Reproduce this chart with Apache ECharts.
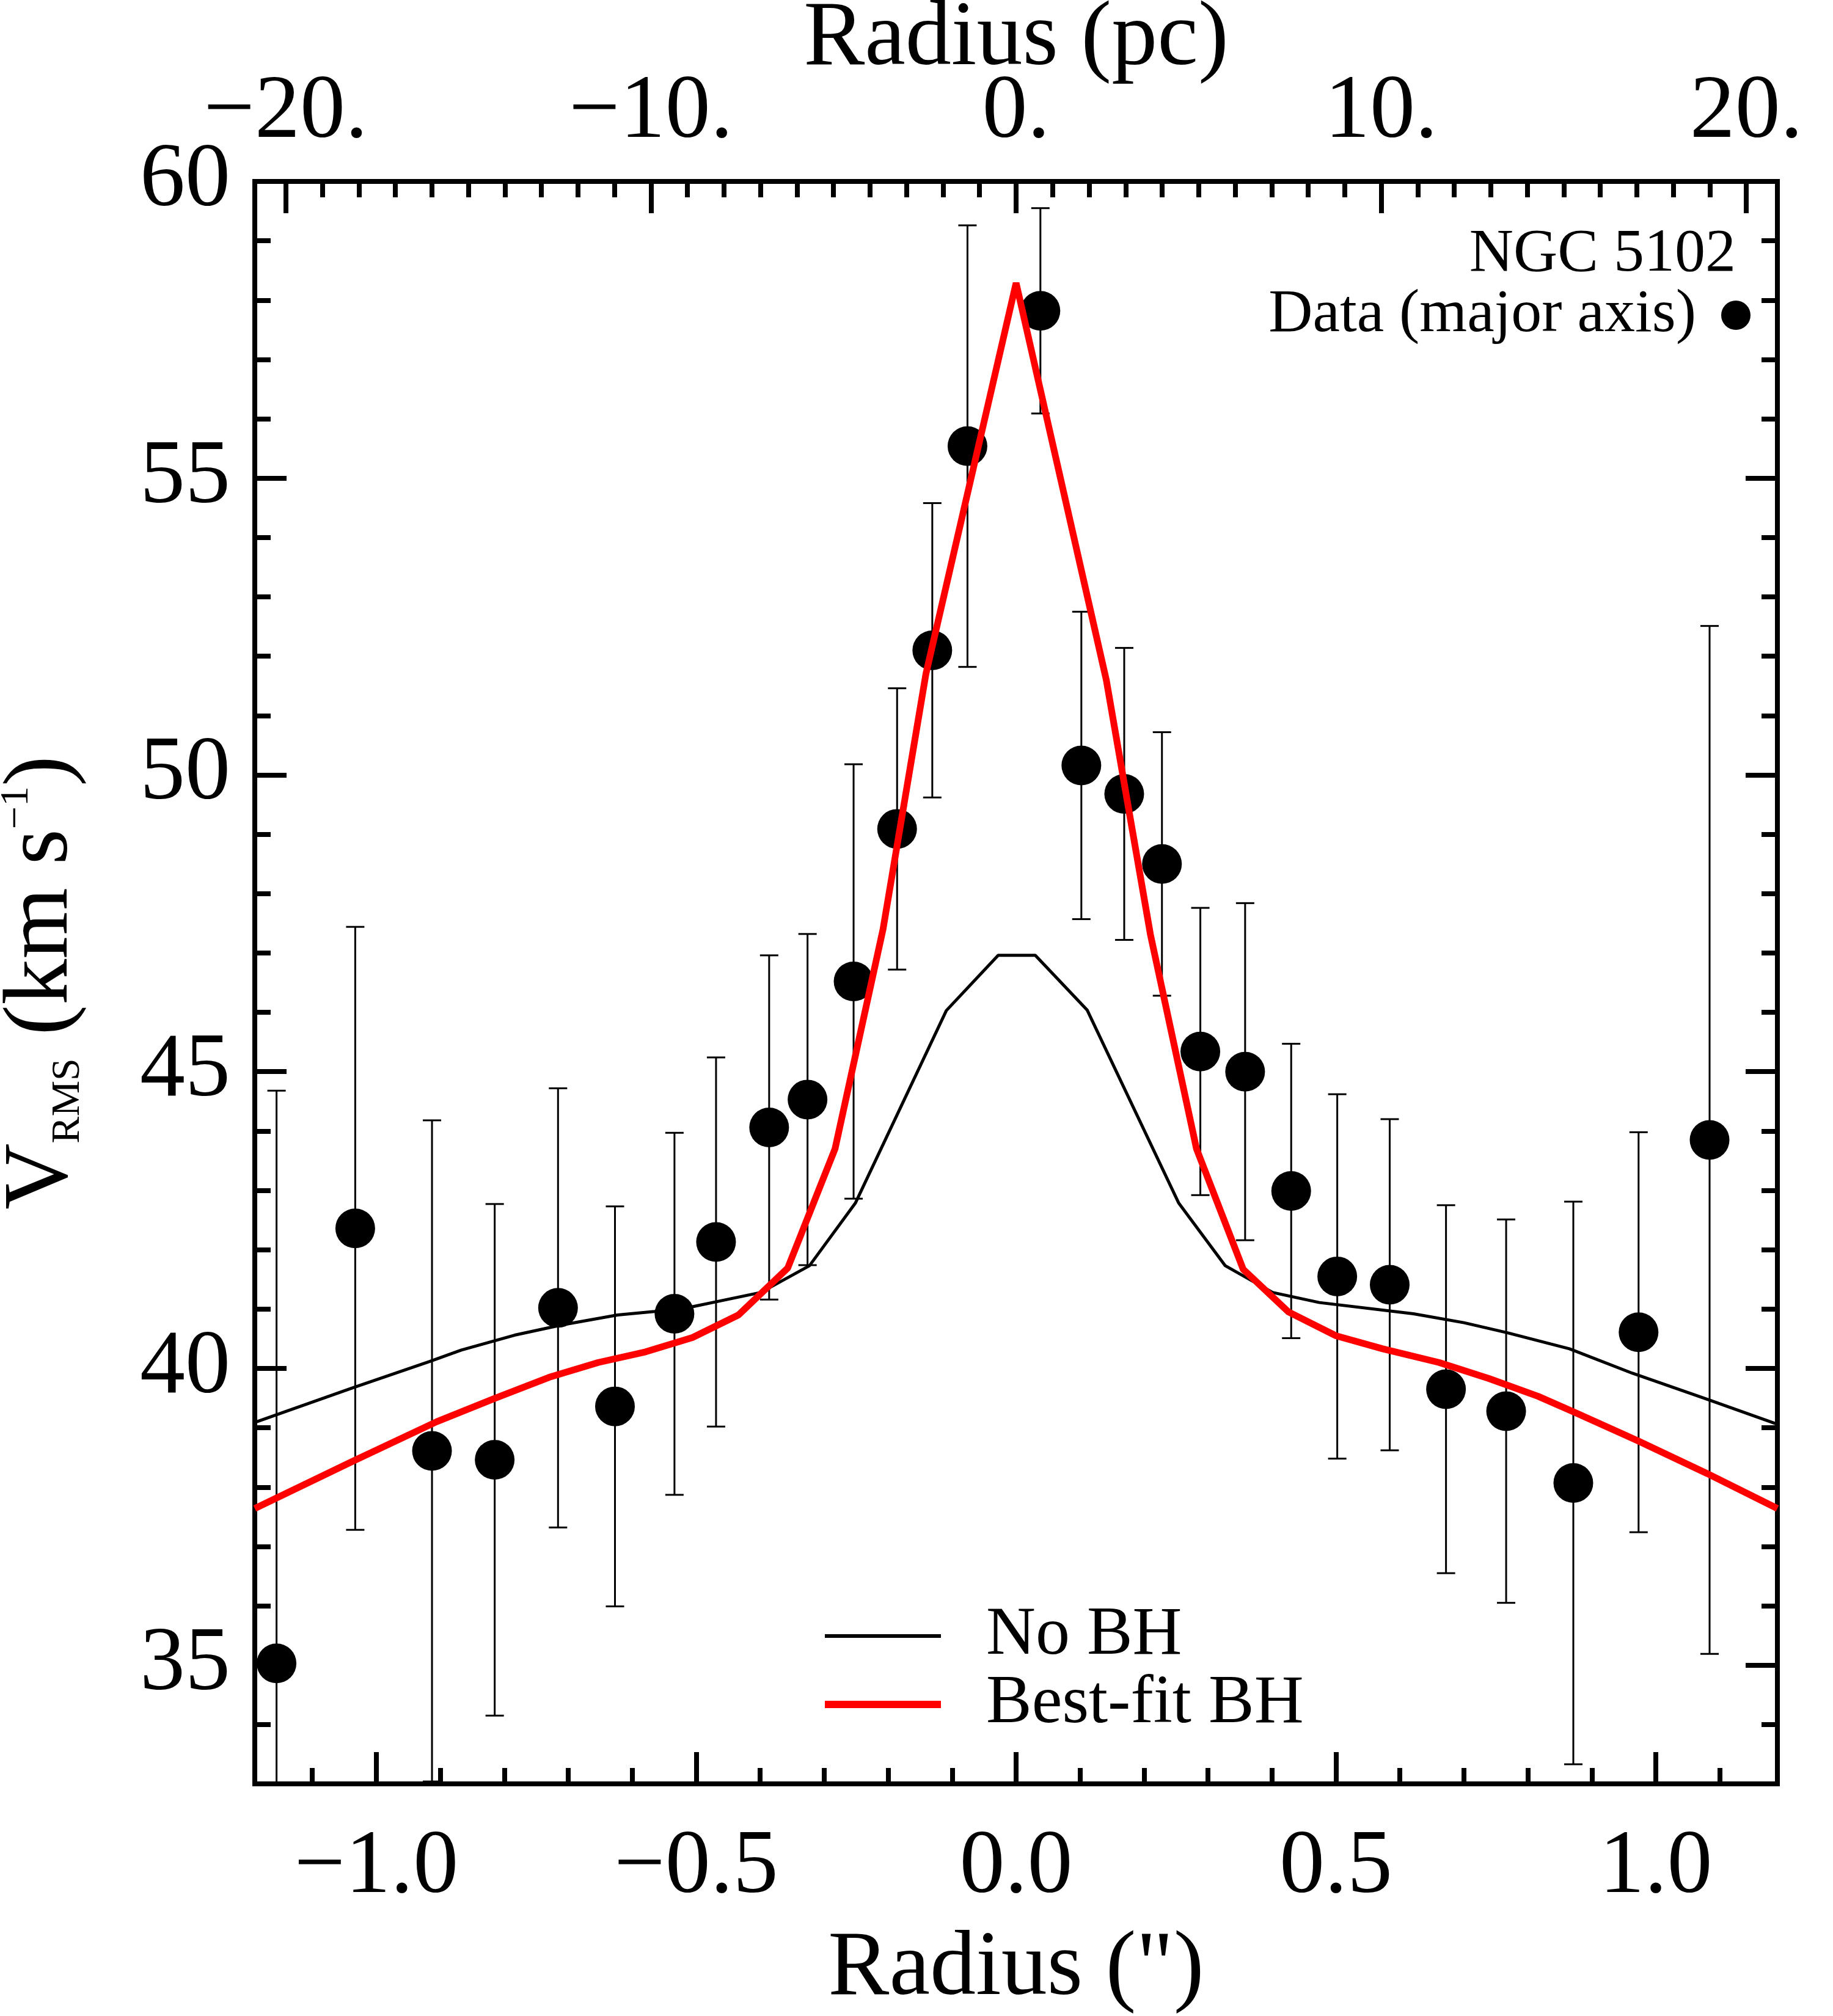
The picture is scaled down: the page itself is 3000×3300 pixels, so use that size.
<!DOCTYPE html>
<html>
<head>
<meta charset="utf-8">
<script src="https://cdn.jsdelivr.net/npm/echarts@6/dist/echarts.min.js"></script>
<style>
  html, body { margin: 0; padding: 0; background: #fff; }
  #chart { width: 3000px; height: 3300px; }
</style>
</head>
<body>
<div id="chart"></div>
<script>
// NGC 5102, Vrms along the major axis, with two dynamical models

// data points (arcsec, km/s) and their symmetric errors
const radius = [-1.156, -1.033, -0.913, -0.815, -0.716, -0.627, -0.534, -0.469, -0.386, -0.326,
  -0.254, -0.186, -0.131, -0.076, 0.038, 0.102, 0.169, 0.228, 0.288, 0.358,
  0.430, 0.502, 0.584, 0.672, 0.766, 0.871, 0.973, 1.084];
const vrms = [35.03, 42.36, 38.61, 38.46, 41.02, 39.36, 40.92, 42.13, 44.06, 44.53,
  46.52, 49.09, 52.10, 55.54, 57.82, 50.16, 49.68, 48.50, 45.34, 45.00,
  42.99, 41.55, 41.41, 39.65, 39.28, 38.07, 40.61, 43.85];
const vrmsErr = [9.65, 5.08, 5.57, 4.31, 3.70, 3.37, 3.05, 3.11, 2.90, 2.79,
  3.66, 2.37, 2.48, 3.72, 1.73, 2.59, 2.46, 2.22, 2.42, 2.84,
  2.48, 3.07, 2.79, 3.10, 3.23, 4.74, 3.37, 8.66];

// model without black hole
const noBhR = [-1.19, -1.038, -0.916, -0.867, -0.784, -0.711, -0.623, -0.565, -0.506, -0.470,
  -0.399, -0.323, -0.251, -0.109, -0.028, 0.030, 0.111, 0.254, 0.327, 0.401,
  0.474, 0.621, 0.700, 0.768, 0.865, 0.963, 1.080, 1.19];
const noBhV = [39.09, 39.67, 40.12, 40.31, 40.56, 40.73, 40.90, 40.96, 41.04, 41.12,
  41.28, 41.73, 42.79, 46.03, 46.96, 46.96, 46.04, 42.79, 41.73, 41.28,
  41.11, 40.92, 40.77, 40.60, 40.33, 39.92, 39.48, 39.06];

// best-fit black hole model
const bhR = [-1.19, -1.038, -0.906, -0.814, -0.730, -0.653, -0.579, -0.506, -0.434, -0.357,
  -0.283, -0.208, -0.141, 0.0, 0.141, 0.210, 0.282, 0.355, 0.426, 0.500,
  0.573, 0.661, 0.739, 0.816, 0.875, 0.972, 1.080, 1.19];
const bhV = [37.64, 38.43, 39.10, 39.50, 39.85, 40.10, 40.28, 40.52, 40.90, 41.69,
  43.70, 47.40, 51.70, 58.29, 51.60, 47.31, 43.70, 41.67, 40.95, 40.55,
  40.33, 40.10, 39.83, 39.53, 39.25, 38.78, 38.23, 37.64];

// tick values and labels
const xMajor = [-1.0, -0.5, 0.0, 0.5, 1.0];
const xMajorLabels = ['\u22121.0', '\u22120.5', '0.0', '0.5', '1.0'];
const pcMajor = [-20, -10, 0, 10, 20];
const pcMajorLabels = ['\u221220.', '\u221210.', '0.', '10.', '20.'];
const yMajor = [35, 40, 45, 50, 55, 60];

const xMinor = [];
for (let i = -11; i <= 11; i++) xMinor.push(i / 10);
const pcMinor = [];
for (let i = -20; i <= 20; i++) pcMinor.push(i);
const yMinor = [];
for (let i = 33; i <= 60; i++) yMinor.push(i);

const FONT = 'Liberation Serif';
const X_MIN = -1.19, X_MAX = 1.19;
const PC_LIM = 20.85;
const Y_MIN = 33, Y_MAX = 60;

function tickAxis(pos, min, max, values, len, extra) {
  return Object.assign({
    type: 'value',
    position: pos,
    min: min,
    max: max,
    nameMoveOverlap: false,
    axisLine: { show: false, onZero: false },
    splitLine: { show: false },
    axisTick: {
      show: true, inside: true, length: len, customValues: values,
      lineStyle: { color: '#000', width: 8 }
    },
    axisLabel: { show: false }
  }, extra || {});
}

function labelFor(values, labels) {
  return function (v) {
    for (let i = 0; i < values.length; i++) {
      if (Math.abs(values[i] - v) < 1e-6) return labels[i];
    }
    return '';
  };
}

function renderErrorBar(params, api) {
  const x = api.value(0);
  const top = api.coord([x, api.value(2)]);
  const bot = api.coord([x, api.value(1)]);
  const cs = params.coordSys;
  const yTop = cs.y, yBot = cs.y + cs.height;
  const style = { stroke: '#000', lineWidth: 3 };
  const kids = [{
    type: 'line',
    shape: { x1: top[0], y1: Math.max(top[1], yTop), x2: top[0], y2: Math.min(bot[1], yBot) },
    style: style
  }];
  if (top[1] >= yTop) {
    kids.push({ type: 'line', shape: { x1: top[0] - 15, y1: top[1], x2: top[0] + 15, y2: top[1] }, style: style });
  }
  if (bot[1] <= yBot) {
    kids.push({ type: 'line', shape: { x1: bot[0] - 15, y1: bot[1], x2: bot[0] + 15, y2: bot[1] }, style: style });
  }
  return { type: 'group', children: kids };
}

function lineLegend(name, top, height) {
  return {
    data: [name],
    left: 1345, top: top,
    icon: 'rect',
    itemWidth: 190, itemHeight: height,
    textStyle: { fontFamily: FONT, fontSize: 112, color: '#000', padding: [0, 0, 0, 69] }
  };
}

const chart = echarts.init(document.getElementById('chart'));

const option = {
  animation: false,
  backgroundColor: '#fff',
  textStyle: { fontFamily: FONT, color: '#000' },
  grid: {
    left: 417, right: 91, top: 297, bottom: 380,
    outerBoundsMode: 'none',
    containLabel: false,
    show: true, borderColor: '#000', borderWidth: 8, backgroundColor: 'transparent'
  },
  title: {
    text: 'NGC 5102',
    right: 154, top: 362,
    textStyle: { fontFamily: FONT, fontSize: 100, fontWeight: 'normal', color: '#000' }
  },
  legend: [
    {
      data: ['Data (major axis)'],
      right: 130, top: 461,
      align: 'right',
      icon: 'circle',
      itemWidth: 48, itemHeight: 48,
      textStyle: { fontFamily: FONT, fontSize: 100, color: '#000', padding: [0, 36, 0, 0] }
    },
    lineLegend('No BH', 2617, 6),
    lineLegend('Best-fit BH', 2729, 12)
  ],
  xAxis: [
    tickAxis('bottom', X_MIN, X_MAX, xMajor, 52, {
      name: 'Radius (")',
      nameLocation: 'middle',
      nameGap: 230,
      nameTextStyle: { fontFamily: FONT, fontSize: 150, color: '#000' },
      axisLabel: {
        show: true, customValues: xMajor, margin: 64,
        fontFamily: FONT, fontSize: 148, color: '#000',
        formatter: labelFor(xMajor, xMajorLabels)
      }
    }),
    tickAxis('bottom', X_MIN, X_MAX, xMinor, 26),
    tickAxis('top', -PC_LIM, PC_LIM, pcMajor, 52, {
      name: 'Radius (pc)',
      nameLocation: 'middle',
      nameGap: 156,
      nameTextStyle: { fontFamily: FONT, fontSize: 150, color: '#000' },
      axisLabel: {
        show: true, customValues: pcMajor, margin: 38,
        fontFamily: FONT, fontSize: 148, color: '#000',
        formatter: labelFor(pcMajor, pcMajorLabels)
      }
    }),
    tickAxis('top', -PC_LIM, PC_LIM, pcMinor, 26)
  ],
  yAxis: [
    tickAxis('left', Y_MIN, Y_MAX, yMajor, 52, {
      name: '{v|V}{s|RMS}{t| (km s}{p|\u22121}{t|)}',
      nameLocation: 'middle',
      nameRotate: 90,
      nameGap: 272,
      nameTextStyle: {
        fontFamily: FONT, color: '#000',
        rich: {
          v: { fontFamily: FONT, fontSize: 150, lineHeight: 150, verticalAlign: 'middle' },
          t: { fontFamily: FONT, fontSize: 150, lineHeight: 150, verticalAlign: 'middle' },
          s: { fontFamily: FONT, fontSize: 66, lineHeight: 66, verticalAlign: 'bottom' },
          p: { fontFamily: FONT, fontSize: 66, lineHeight: 66, verticalAlign: 'top' }
        }
      },
      axisLabel: {
        show: true, customValues: yMajor, margin: 40,
        fontFamily: FONT, fontSize: 148, color: '#000'
      }
    }),
    tickAxis('left', Y_MIN, Y_MAX, yMinor, 26),
    tickAxis('right', Y_MIN, Y_MAX, yMajor, 52),
    tickAxis('right', Y_MIN, Y_MAX, yMinor, 26)
  ],
  series: [
    {
      type: 'custom',
      name: 'errors',
      xAxisIndex: 0, yAxisIndex: 0,
      renderItem: renderErrorBar,
      data: radius.map((r, i) => [r, vrms[i] - vrmsErr[i], vrms[i] + vrmsErr[i]]),
      z: 2,
      silent: true
    },
    {
      type: 'scatter',
      name: 'Data (major axis)',
      xAxisIndex: 0, yAxisIndex: 0,
      symbol: 'circle',
      symbolSize: 65,
      itemStyle: { color: '#000', opacity: 1 },
      data: radius.map((r, i) => [r, vrms[i]]),
      z: 3
    },
    {
      type: 'line',
      name: 'No BH',
      xAxisIndex: 0, yAxisIndex: 0,
      symbol: 'none',
      lineStyle: { color: '#000', width: 5 },
      itemStyle: { color: '#000' },
      data: noBhR.map((r, i) => [r, noBhV[i]]),
      z: 4
    },
    {
      type: 'line',
      name: 'Best-fit BH',
      xAxisIndex: 0, yAxisIndex: 0,
      symbol: 'none',
      lineStyle: { color: '#ff0000', width: 11 },
      itemStyle: { color: '#ff0000' },
      data: bhR.map((r, i) => [r, bhV[i]]),
      z: 5
    }
  ]
};

chart.setOption(option);
window.addEventListener('resize', () => {
  chart.resize();
});
</script>
</body>
</html>
